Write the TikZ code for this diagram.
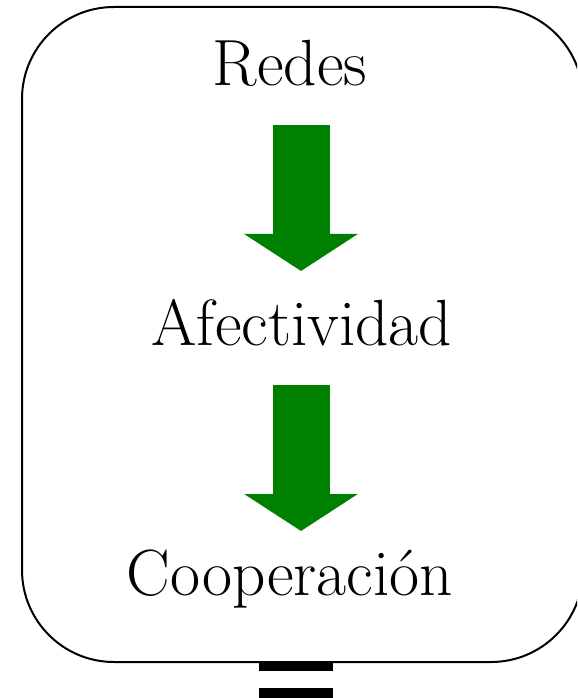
\documentclass[tikz,border=0pt]{standalone}
\usepackage{tikz}
\usetikzlibrary{positioning}
\usetikzlibrary{arrows.meta}
\usetikzlibrary{calc}

\definecolor{arrowgreen}{RGB}{0,128,0}
\tikzset{
  word/.style={anchor=base, inner sep=0pt, font=\fontsize{49}{58}\selectfont},
  bigarrow/.style={arrowgreen, line width=42.75pt,
    -{Triangle[width=84pt, length=27.75pt]}}
}

\begin{document}
\begin{tikzpicture}[x=0.75pt, y=-0.75pt]
  \useasboundingbox (0,0) rectangle (577,698);
  \clip (0,0) rectangle (577,698);

  \draw[rounded corners=69pt, line width=1.5pt] (22,7) rectangle (583,662);

  \node[word] (redes) at (290,86) {Redes};
  \node[word] (afect) at (302,345) {Afectividad};
  \node[word] (coop) at (290,595) {Cooperación};

  \coordinate (a1) at (301,125);
  \coordinate (a2) at (301,271);
  \coordinate (b1) at (301,385);
  \coordinate (b2) at (301,531);
  \draw[bigarrow] (a1) -- (a2);
  \draw[bigarrow] (b1) -- (b2);

  % bars under the box
  \fill (259,662) rectangle (333,671);
  \fill (259,688) rectangle (333,700);
\end{tikzpicture}
\end{document}
